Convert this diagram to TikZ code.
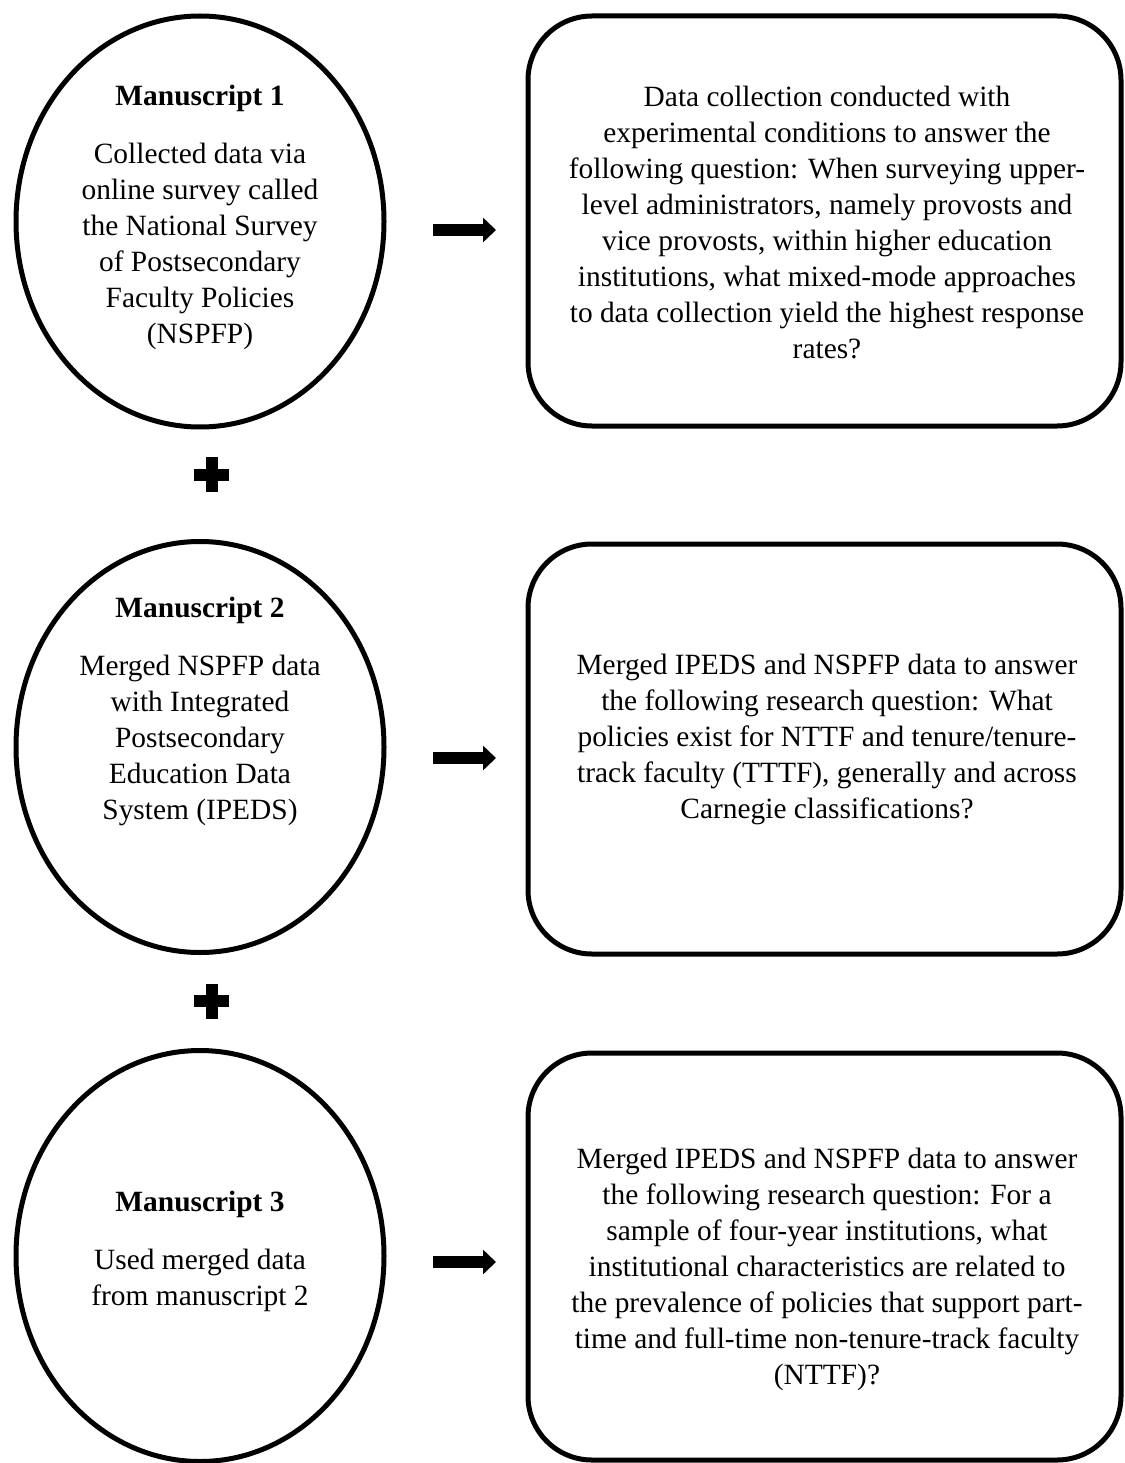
\documentclass[tikz,border=0pt]{standalone}
\usepackage{fontspec}
\setmainfont{Liberation Serif}
\usetikzlibrary{arrows.meta,shapes.geometric}
\tikzset{
 ell/.style={draw, line width=5pt, ellipse, inner sep=0pt, minimum width=368pt, minimum height=411pt},
 qbox/.style={draw, line width=5pt, rectangle, rounded corners=64pt, inner sep=0pt, minimum width=593pt, minimum height=410pt},
 txt/.style={align=center, inner sep=0pt, font=\fontsize{29.4}{36}\selectfont},
 flow/.style={line width=12pt, -{Triangle[length=13pt,width=24pt]}},
 plusmark/.style={fill=black},
}
\begin{document}
\begin{tikzpicture}[x=1pt,y=-1pt]
\useasboundingbox (0,0) rectangle (1124,1463);

% ellipses
\node[ell] (m1) at (200,221.5) {};
\node[ell] (m2) at (200,747) {};
\node[ell] (m3) at (200,1256) {};

% boxes
\node[qbox] (b1) at (824.5,221) {};
\node[qbox] (b2) at (824.5,749) {};
\node[qbox, minimum height=407pt] (b3) at (824.5,1256.5) {};

% ellipse texts
\node[txt] (m1t) at (200,217) {\textbf{Manuscript 1}\\[22pt]
Collected data via\\
online survey called\\
the National Survey\\
of Postsecondary\\
Faculty Policies\\
(NSPFP)};
\node[txt] (m2t) at (200,711) {\textbf{Manuscript 2}\\[22pt]
Merged NSPFP data\\
with Integrated\\
Postsecondary\\
Education Data\\
System (IPEDS)};
\node[txt] (m3t) at (200,1251) {\textbf{Manuscript 3}\\[22pt]
Used merged data\\
from manuscript 2};

% box texts
\node[txt] (b1t) at (827,223) {Data collection conducted with\\
experimental conditions to answer the\\
following question: When surveying upper-\\
level administrators, namely provosts and\\
vice provosts, within higher education\\
institutions, what mixed-mode approaches\\
to data collection yield the highest response\\
rates?};
\node[txt] (b2t) at (827,739) {Merged IPEDS and NSPFP data to answer\\
the following research question: What\\
policies exist for NTTF and tenure/tenure-\\
track faculty (TTTF), generally and across\\
Carnegie classifications?};
\node[txt] (b3t) at (827,1269) {Merged IPEDS and NSPFP data to answer\\
the following research question: For a\\
sample of four-year institutions, what\\
institutional characteristics are related to\\
the prevalence of policies that support part-\\
time and full-time non-tenure-track faculty\\
(NTTF)?};

% arrows
\coordinate (a1s) at (433,230);
\coordinate (a1e) at (496,230);
\coordinate (a2s) at (433,758);
\coordinate (a2e) at (496,758);
\coordinate (a3s) at (433,1262);
\coordinate (a3e) at (496,1262);
\draw[flow] (a1s) -- (a1e);
\draw[flow] (a2s) -- (a2e);
\draw[flow] (a3s) -- (a3e);

% plus signs
\fill[plusmark] (205.5,457) rectangle (217.5,492);
\fill[plusmark] (194,468.5) rectangle (229,480.5);
\fill[plusmark] (205.5,983.5) rectangle (217.5,1018.5);
\fill[plusmark] (194,995) rectangle (229,1007);
\end{tikzpicture}
\end{document}
